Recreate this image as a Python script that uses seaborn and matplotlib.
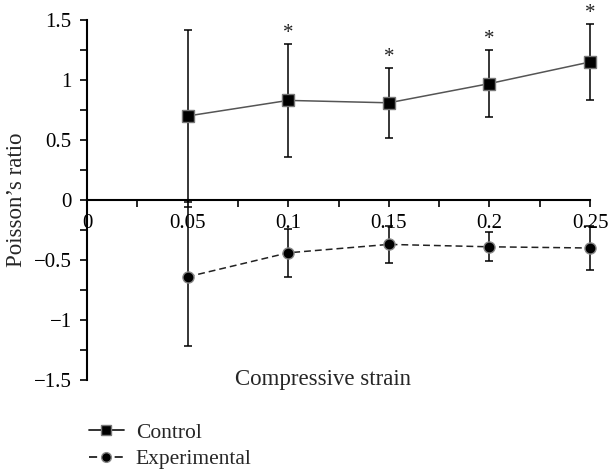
import numpy as np
import pandas as pd
import matplotlib
matplotlib.use("Agg")
import matplotlib.pyplot as plt
import seaborn as sns
from matplotlib.lines import Line2D
from matplotlib.ticker import MultipleLocator, FuncFormatter

sns.set_theme(style="ticks")
plt.rcParams['font.family'] = ['Liberation Serif', 'DejaVu Serif']

strain = [0.05, 0.10, 0.15, 0.20, 0.25]
control = [0.70, 0.83, 0.81, 0.97, 1.15]
control_err = [0.72, 0.47, 0.29, 0.28, 0.315]
experimental = [-0.64, -0.44, -0.37, -0.39, -0.40]
experimental_err = [0.58, 0.20, 0.155, 0.12, 0.18]
significant = [False, True, True, True, True]

df = pd.concat([
    pd.DataFrame({"strain": strain, "ratio": control, "group": "Control"}),
    pd.DataFrame({"strain": strain, "ratio": experimental, "group": "Experimental"}),
])

fig = plt.figure(figsize=(6.1, 4.75), dpi=100)
ax = fig.add_axes([87/610, 1-380/475, (590-87)/610, 360/475])

for vals, errs in ((control, control_err), (experimental, experimental_err)):
    eb = ax.errorbar(strain, vals, yerr=errs, fmt='none', ecolor='black',
                     elinewidth=1.1, capsize=2.6, capthick=1.1, zorder=2)
    for art in eb.lines[1] + eb.lines[2]:
        art.set_clip_on(False)

sns.lineplot(data=df[df.group == "Control"], x="strain", y="ratio", ax=ax,
             color='#555555', lw=1.1, marker='s', markersize=8,
             markerfacecolor='black', markeredgecolor='#777777', markeredgewidth=1,
             zorder=3, legend=False, clip_on=False)
sns.lineplot(data=df[df.group == "Experimental"], x="strain", y="ratio", ax=ax,
             color='#222222', lw=1.1, marker='o', markersize=8, linestyle=(0, (4.5, 2.6)),
             markerfacecolor='black', markeredgecolor='#888888', markeredgewidth=1,
             zorder=3, legend=False, clip_on=False)

for x, v, e, s in zip(strain, control, control_err, significant):
    if s:
        ax.text(x, v + e + 0.01, '*', ha='center', va='bottom', fontsize=15,
                color='#222222', clip_on=False)

ax.set_xlim(0, 0.25)
ax.set_ylim(-1.5, 1.5)
ax.spines['top'].set_visible(False)
ax.spines['right'].set_visible(False)
ax.spines['bottom'].set_position(('data', 0))
ax.spines['bottom'].set_linewidth(1.5)
ax.spines['left'].set_linewidth(1.5)
ax.spines['bottom'].set_color('black')
ax.spines['left'].set_color('black')

ax.xaxis.set_major_locator(MultipleLocator(0.05))
ax.xaxis.set_minor_locator(MultipleLocator(0.025))
ax.yaxis.set_major_locator(MultipleLocator(0.5))
ax.yaxis.set_minor_locator(MultipleLocator(0.25))

def fmt(v, pos):
    if abs(v) < 1e-9:
        return '0'
    s = ('%.2f' % v).rstrip('0').rstrip('.')
    return s.replace('-', '\u2212')

ax.xaxis.set_major_formatter(FuncFormatter(fmt))
ax.yaxis.set_major_formatter(FuncFormatter(fmt))
ax.tick_params(axis='both', which='both', direction='out', color='black', width=1.2)
ax.tick_params(axis='both', which='major', length=5, labelsize=15, colors='black')
ax.tick_params(axis='both', which='minor', length=5)
ax.tick_params(axis='x', pad=5)
ax.tick_params(axis='y', pad=6)

ax.set_xlabel('')
ax.set_ylabel('')
fig.text(323/610, 1-379/475, 'Compressive strain', ha='center', va='center', fontsize=16.5)
fig.text(17/610, 1-200/475, 'Poisson\u2019s ratio', ha='center', va='center', rotation=90, fontsize=16.5)

handles = [
    Line2D([], [], color='#222222', lw=1.3, marker='s', markersize=7,
           markerfacecolor='black', markeredgecolor='#777777'),
    Line2D([], [], color='#222222', lw=1.3, marker='o', markersize=7, linestyle=(0, (4.5, 2.6)),
           markerfacecolor='black', markeredgecolor='#888888'),
]
fig.legend(handles, ['Control', 'Experimental'], loc='lower left',
           bbox_to_anchor=(80/610, -3/475), frameon=False, fontsize=15.5,
           handlelength=1.63, handletextpad=0.56, labelspacing=0.3, borderaxespad=0)

fig.savefig('out.png', dpi=100)
